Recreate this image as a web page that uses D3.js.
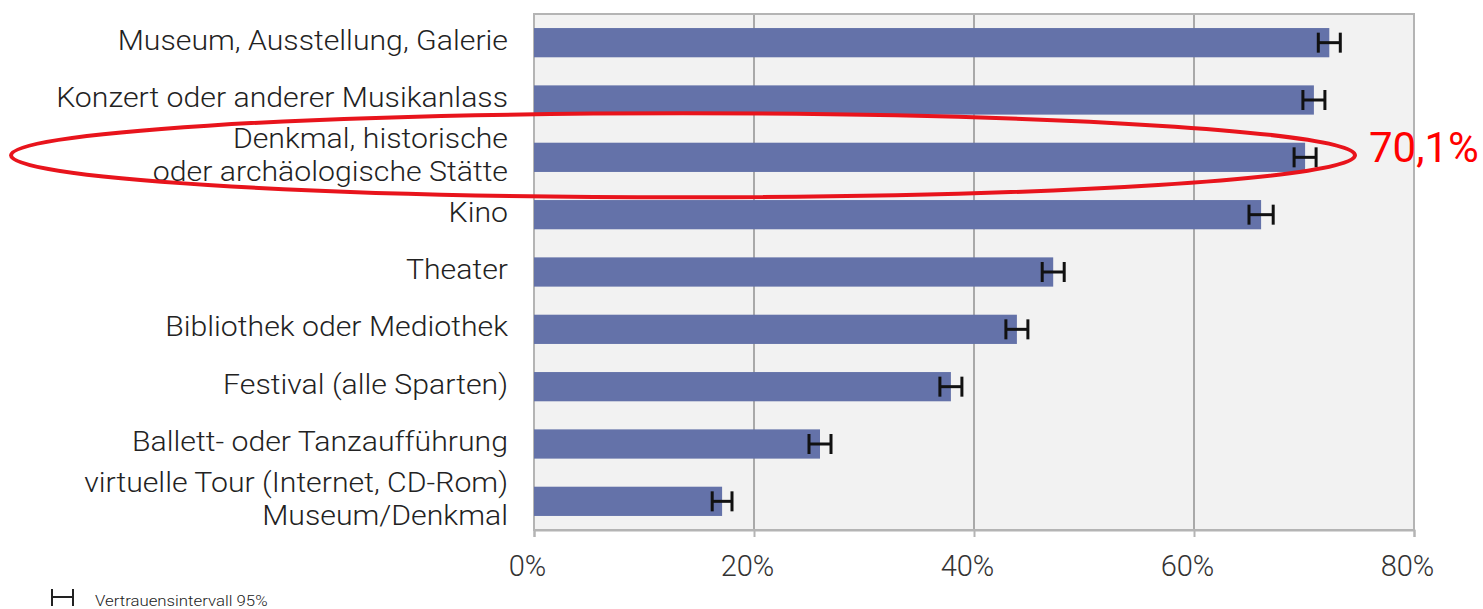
<!DOCTYPE html>
<html>
<head>
<meta charset="utf-8">
<script src="https://cdn.jsdelivr.net/npm/d3@7"></script>
<style>
  body { margin: 0; background: #fff; }
  text { font-family: Roboto, "Noto Sans", sans-serif; }
</style>
</head>
<body>
<div id="chart"></div>
<script>
// categories (label lines), values in %, CI half-width in %
const categories = [
  ["Museum, Ausstellung, Galerie"],
  ["Konzert oder anderer Musikanlass"],
  ["Denkmal, historische", "oder archäologische Stätte"],
  ["Kino"],
  ["Theater"],
  ["Bibliothek oder Mediothek"],
  ["Festival (alle Sparten)"],
  ["Ballett- oder Tanzaufführung"],
  ["virtuelle Tour (Internet, CD-Rom)", "Museum/Denkmal"]
];
const values = [72.3, 70.9, 70.1, 66.1, 47.2, 43.9, 37.9, 26.0, 17.1];
const ciHalf = [1.0, 1.0, 1.0, 1.1, 1.0, 1.0, 1.0, 1.0, 0.9];
const xTicks = [0, 20, 40, 60, 80];
const highlight = "70,1%";
const legendLabel = "Vertrauensintervall 95%";

const svgWidth = 1483, svgHeight = 609;
const margin = { top: 14, right: 69, bottom: 79, left: 534 };
const width = svgWidth - margin.left - margin.right;
const height = svgHeight - margin.top - margin.bottom;
const stretch = 1.12; // text in the source is set a bit wide

const svg = d3.select("#chart").append("svg")
    .attr("width", svgWidth)
    .attr("height", svgHeight);

const chart = svg.append("g")
    .attr("transform", `translate(${margin.left},${margin.top})`);

const x = d3.scaleLinear().domain([0, 80]).range([0, width]);
const y = d3.scaleBand().domain(d3.range(categories.length)).range([0, height])
    .paddingInner(0.49).paddingOuter(0.245);

// background
chart.append("rect")
    .attr("width", width).attr("height", height)
    .attr("fill", "#f2f2f2");

// gridlines
chart.append("g").selectAll("line")
    .data(xTicks.slice(1, -1))
    .join("line")
    .attr("x1", d => x(d)).attr("x2", d => x(d))
    .attr("y1", 0).attr("y2", height)
    .attr("stroke", "#a9a9a9").attr("stroke-width", 2);

// frame
chart.append("rect")
    .attr("width", width).attr("height", height)
    .attr("fill", "none")
    .attr("stroke", "#b4b4b4").attr("stroke-width", 2);

// x axis
const xAxis = chart.append("g")
    .attr("transform", `translate(0,${height})`)
    .call(d3.axisBottom(x).tickValues(xTicks).tickSize(7).tickPadding(18).tickFormat(d => d + "%"));
xAxis.select(".domain").attr("stroke", "#b4b4b4").attr("stroke-width", 2);
xAxis.selectAll(".tick line").attr("stroke", "#b4b4b4").attr("stroke-width", 2);
xAxis.selectAll(".tick text")
    .attr("font-size", 29).attr("font-weight", 300).attr("fill", "#333")
    .attr("dx", -7);

// bars
chart.append("g").selectAll("rect")
    .data(values)
    .join("rect")
    .attr("x", 0)
    .attr("y", (d, i) => y(i))
    .attr("width", d => x(d))
    .attr("height", y.bandwidth())
    .attr("fill", "#6472a9");

// error bars
const eb = chart.append("g").attr("stroke", "#111").attr("stroke-width", 3);
values.forEach(function(v, i) {
  const cy = y(i) + y.bandwidth() / 2;
  const x0 = x(v - ciHalf[i]), x1 = x(v + ciHalf[i]);
  eb.append("line").attr("x1", x0).attr("x2", x1).attr("y1", cy).attr("y2", cy);
  eb.append("line").attr("x1", x0).attr("x2", x0).attr("y1", cy - 10).attr("y2", cy + 10);
  eb.append("line").attr("x1", x1).attr("x2", x1).attr("y1", cy - 10).attr("y2", cy + 10);
});

// category labels (right edge at -26, stretched horizontally)
const lineH = 33;
chart.append("g")
    .attr("transform", `translate(-26,0) scale(${stretch},1)`)
    .selectAll("text")
    .data(categories)
    .join("text")
    .attr("x", 0)
    .attr("y", (d, i) => y(i) + y.bandwidth() / 2)
    .attr("text-anchor", "end")
    .attr("font-size", 27)
    .attr("font-weight", 300)
    .attr("fill", "#222")
    .each(function(d) {
      const t = d3.select(this);
      d.forEach(function(line, j) {
        t.append("tspan")
          .attr("x", 0)
          .attr("dy", j === 0 ? (-(d.length - 1) * lineH / 2 + 7) : lineH)
          .text(line);
      });
    });

// highlight ellipse + value
const hc = margin.top + y(2) + y.bandwidth() / 2;
svg.append("ellipse")
    .attr("cx", 683).attr("cy", hc - 2)
    .attr("rx", 672).attr("ry", 42)
    .attr("fill", "none")
    .attr("stroke", "#e8141c").attr("stroke-width", 4);
svg.append("text")
    .attr("x", 1369).attr("y", hc + 5)
    .attr("font-size", 42)
    .attr("fill", "#ff0000")
    .text(highlight);

// legend
const lg = svg.append("g").attr("stroke", "#222").attr("stroke-width", 2);
lg.append("line").attr("x1", 52).attr("x2", 73).attr("y1", 597).attr("y2", 597);
lg.append("line").attr("x1", 52).attr("x2", 52).attr("y1", 589).attr("y2", 606);
lg.append("line").attr("x1", 73).attr("x2", 73).attr("y1", 589).attr("y2", 606);
svg.append("text")
    .attr("transform", `translate(95,606) scale(${stretch},1)`)
    .attr("font-size", 15)
    .attr("font-weight", 300)
    .attr("fill", "#222")
    .text(legendLabel);
</script>
</body>
</html>
